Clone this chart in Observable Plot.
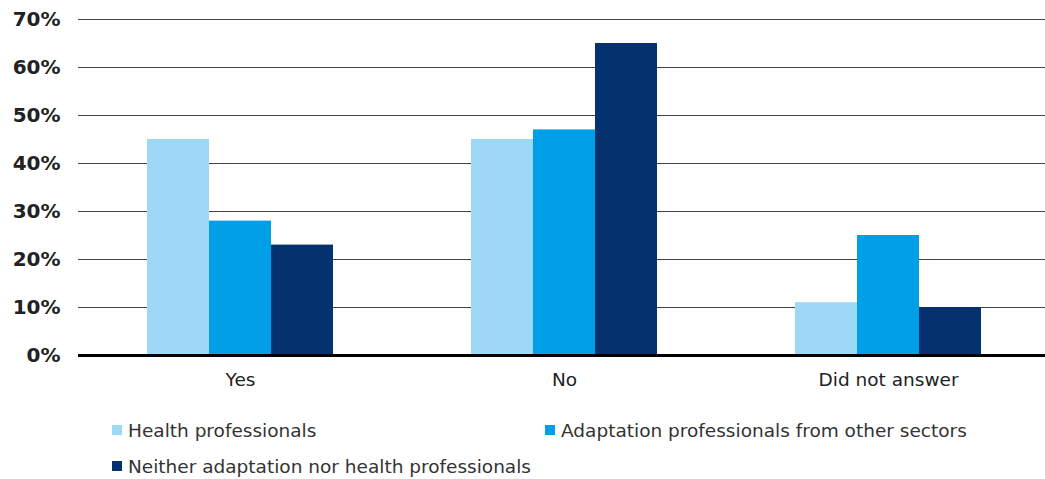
<!DOCTYPE html>
<html>
<head>
<meta charset="utf-8">
<script src="https://cdn.jsdelivr.net/npm/d3@7"></script>
<script src="https://cdn.jsdelivr.net/npm/@observablehq/plot@0.6"></script>
<style>
  html, body { margin: 0; padding: 0; background: #fff; overflow: hidden; }
  #wrap { position: relative; width: 1045px; height: 479px; font-family: "DejaVu Sans", Verdana, sans-serif; }
  #legend { position: absolute; left: 112px; top: 419px; display: grid; grid-template-columns: 433px auto; row-gap: 14px; font-size: 18.5px; color: #333; }
  .item { display: flex; align-items: center; height: 22px; white-space: nowrap; }
  .sw { width: 10px; height: 10px; margin-right: 6px; flex: none; }
</style>
</head>
<body>
<div id="wrap"><div id="chart"></div><div id="legend"></div></div>
<script>
const categories = ["Yes", "No", "Did not answer"];
const series = ["Health professionals", "Adaptation professionals from other sectors", "Neither adaptation nor health professionals"];
const health = [45, 45, 11];
const adaptation = [28, 47, 25];
const neither = [23, 65, 10];
const yTicks = [0, 10, 20, 30, 40, 50, 60, 70];
const colors = ["#9dd9f7", "#009fe8", "#05326e"];

const valuesBySeries = [health, adaptation, neither];
const data = categories.flatMap((c, i) => series.map((s, j) => ({category: c, series: s, value: valuesBySeries[j][i]})));

const chart = Plot.plot({
  width: 1045,
  height: 400,
  marginLeft: 78,
  marginRight: -5,
  marginTop: 19,
  marginBottom: 45,
  style: {fontFamily: "DejaVu Sans, Verdana, sans-serif", fontSize: "18.5px", color: "#222", background: "#fff", overflow: "visible"},
  fx: {domain: categories, padding: 0, label: null},
  x: {domain: series, axis: null, paddingInner: 0, paddingOuter: 1.092},
  y: {domain: [0, 70], axis: null},
  color: {domain: series, range: colors},
  marks: [
    Plot.ruleY(yTicks.slice(1), {stroke: "#444", strokeWidth: 1}),
    Plot.barY(data, {fx: "category", x: "series", y: "value", fill: "series"}),
    Plot.ruleY([0], {stroke: "#000", strokeWidth: 3}),
    Plot.axisY(yTicks, {anchor: "left", tickSize: 0, tickPadding: 18, tickFormat: d => d + "%", fontWeight: "bold", fontSize: 20, fill: "#222", label: null}),
    Plot.axisFx({anchor: "bottom", tickSize: 0, tickPadding: 17, fontSize: 18.5, fill: "#222", label: null})
  ]
});
document.getElementById("chart").appendChild(chart);

const legend = document.getElementById("legend");
series.forEach((s, i) => {
  const item = document.createElement("div");
  item.className = "item";
  const sw = document.createElement("span");
  sw.className = "sw";
  sw.style.background = colors[i];
  const t = document.createElement("span");
  t.textContent = s;
  item.appendChild(sw);
  item.appendChild(t);
  legend.appendChild(item);
});
</script>
</body>
</html>
